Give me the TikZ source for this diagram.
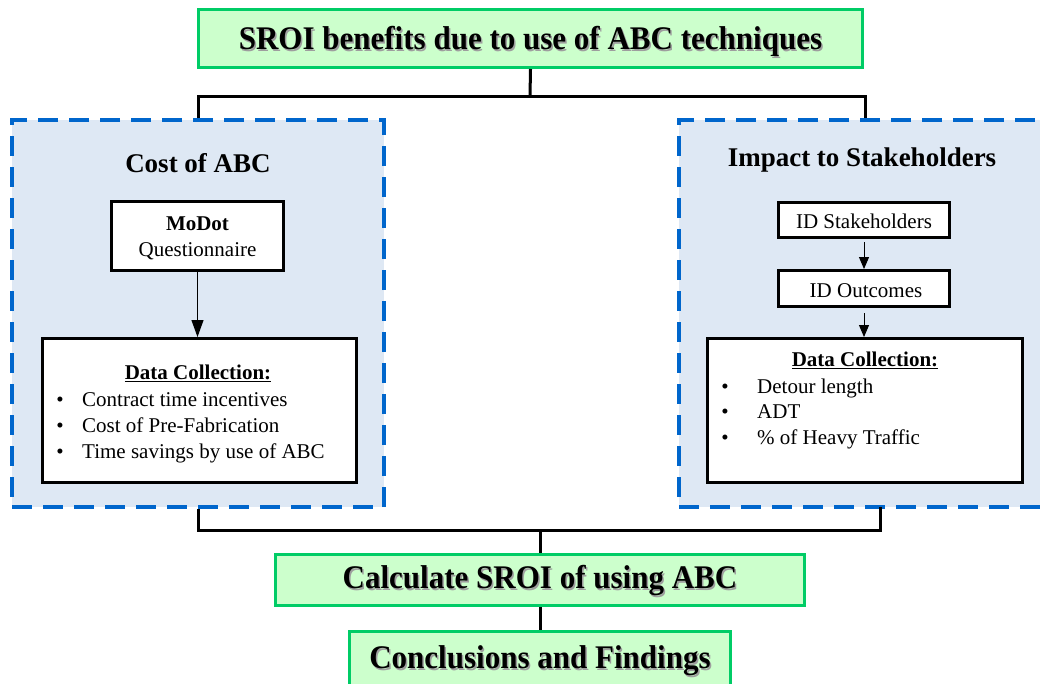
\documentclass[tikz,border=0pt]{standalone}
\usepackage{fontspec}
\setmainfont{Liberation Serif}
\newfontfamily\headface[FakeStretch=0.94]{Liberation Serif}
\usetikzlibrary{arrows.meta}

\definecolor{mintfill}{HTML}{CCFFCC}
\definecolor{mintedge}{HTML}{00CC66}
\definecolor{panelfill}{HTML}{DEE8F4}
\definecolor{paneledge}{HTML}{0066CC}
\definecolor{paneltrim}{HTML}{C8CED6}

\tikzset{
  greenbox/.style={draw=mintedge, line width=3pt, fill=mintfill, inner sep=0pt},
  panel/.style={preaction={fill=panelfill, draw=paneltrim, line width=1pt},
                draw=paneledge, line width=3.5pt, dash pattern=on 20pt off 11pt, inner sep=0pt},
  whitebox/.style={draw=black, line width=3pt, fill=white, inner sep=0pt},
  link/.style={draw=black, line width=3pt},
  flow/.style={draw=black, line width=1pt, -{Triangle[length=17pt,width=12pt]}},
  smallflow/.style={draw=black, line width=1pt, -{Triangle[length=12pt,width=10pt]}},
  headfont/.style={font=\headface\fontsize{33}{39}\selectfont\bfseries},
  panelfont/.style={font=\fontsize{27}{32}\selectfont\bfseries},
  bodyfont/.style={font=\fontsize{21}{25}\selectfont},
  boldbody/.style={font=\fontsize{21}{25}\selectfont\bfseries},
  txt/.style={inner sep=0pt, anchor=base},
  shade/.style={inner sep=0pt, anchor=base, text=black!38},
}

\begin{document}
\begin{tikzpicture}[x=1pt, y=-1pt]
\useasboundingbox (0,0) rectangle (1040,683);

% ---- outer panels ----
\node[panel, minimum width=372pt, minimum height=387pt] (costbox) at (198,313.5) {};
\node[panel, minimum width=372pt, minimum height=387pt] (impactbox) at (865,313.5) {};

% ---- green stage boxes ----
\node[greenbox, minimum width=664pt, minimum height=58pt] (title) at (530.5,38.5) {};
\node[greenbox, minimum width=529pt, minimum height=51pt] (calc) at (540,580) {};
\node[greenbox, minimum width=381pt, minimum height=70pt] (concl) at (540,666) {};

\node[shade, headfont] (titleshade) at (532,51) {SROI benefits due to use of ABC techniques};
\node[txt, headfont] (titletext) at (530.5,49.5) {SROI benefits due to use of ABC techniques};
\node[shade, headfont] (calcshade) at (541.5,590) {Calculate SROI of using ABC};
\node[txt, headfont] (calctext) at (540,588.5) {Calculate SROI of using ABC};
\node[shade, headfont] (conclshade) at (541.5,670) {Conclusions and Findings};
\node[txt, headfont] (concltext) at (540,668.5) {Conclusions and Findings};

% ---- connectors between stages ----
\coordinate (topbus) at (530,96);
\coordinate (botbus) at (540,530);
\coordinate (rdrop) at (880,507);
\draw[link] (title.south) -- (topbus);
\draw[link] (costbox.north) |- (topbus) -| (impactbox.north);
\draw[link] (costbox.south) |- (botbus) -| (rdrop);
\draw[link] (botbus) -- (calc.north);
\draw[link] (calc.south) -- (concl.north);

% ---- cost of ABC panel ----
\node[txt, panelfont] (costhead) at (198,172) {Cost of ABC};
\node[whitebox, minimum width=172pt, minimum height=69pt] (modot) at (197.5,236) {};
\node[txt, boldbody] (modotname) at (197.5,230) {MoDot};
\node[txt, bodyfont] (modotsub) at (197.5,256) {Questionnaire};
\node[whitebox, minimum width=314pt, minimum height=144pt] (costdata) at (199.5,410.5) {};
\draw[flow] (modot.south) -- (modot.south |- costdata.north);
\node[txt, boldbody] (costdatahead) at (198,379) {\underline{Data Collection:}};
\node[txt, bodyfont] (cb1) at (60,406) {\textbullet};
\node[txt, bodyfont, anchor=base west] (ci1) at (82,406) {Contract time incentives};
\node[txt, bodyfont] (cb2) at (60,432) {\textbullet};
\node[txt, bodyfont, anchor=base west] (ci2) at (82,432) {Cost of Pre-Fabrication};
\node[txt, bodyfont] (cb3) at (60,458) {\textbullet};
\node[txt, bodyfont, anchor=base west] (ci3) at (82,458) {Time savings by use of ABC};

% ---- impact to stakeholders panel ----
\node[txt, panelfont] (imphead) at (862,166) {Impact to Stakeholders};
\node[whitebox, minimum width=171pt, minimum height=35pt] (idst) at (864,220) {};
\node[txt, bodyfont] (idsttext) at (864,228) {ID Stakeholders};
\node[whitebox, minimum width=171pt, minimum height=36pt] (idout) at (864,288.5) {};
\node[txt, bodyfont] (idouttext) at (866,297) {ID Outcomes};
\node[whitebox, minimum width=315pt, minimum height=144pt] (impdata) at (865,410.5) {};
\draw[smallflow, shorten <=3pt] (idst.south) -- (idout.north);
\draw[smallflow, shorten <=5pt] (idout.south) -- (idout.south |- impdata.north);
\node[txt, boldbody] (impdatahead) at (865,366) {\underline{Data Collection:}};
\node[txt, bodyfont] (ib1) at (725,393) {\textbullet};
\node[txt, bodyfont, anchor=base west] (ii1) at (757,393) {Detour length};
\node[txt, bodyfont] (ib2) at (725,418.5) {\textbullet};
\node[txt, bodyfont, anchor=base west] (ii2) at (757,418.5) {ADT};
\node[txt, bodyfont] (ib3) at (725,444) {\textbullet};
\node[txt, bodyfont, anchor=base west] (ii3) at (757,444) {\% of Heavy Traffic};
\end{tikzpicture}
\end{document}
